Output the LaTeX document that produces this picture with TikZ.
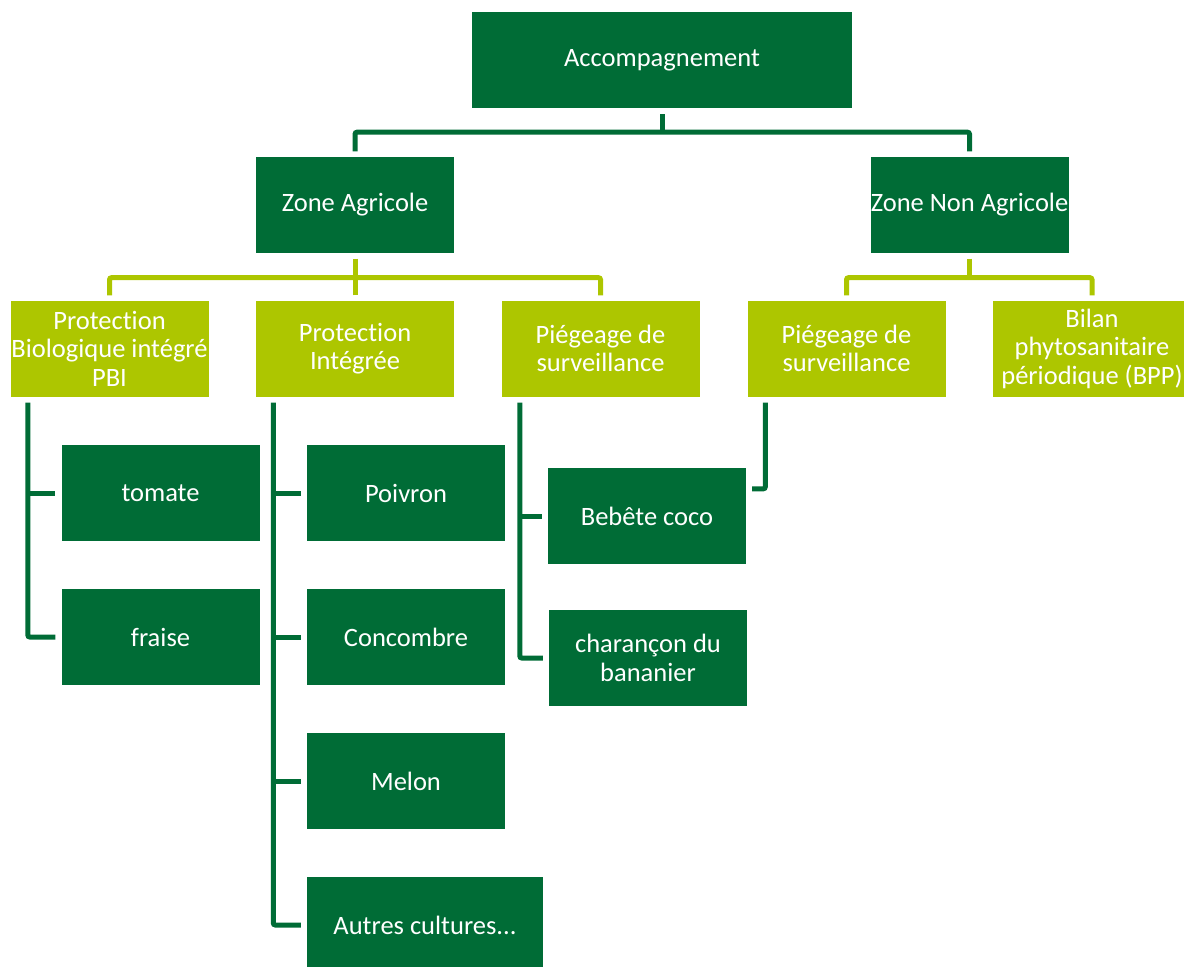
\documentclass[tikz,border=0pt]{standalone}
\usepackage{fontspec}
\setmainfont{Carlito}[Ligatures=NoCommon]
\usetikzlibrary{calc}
\definecolor{dk}{RGB}{0,108,54}
\definecolor{lt}{RGB}{173,198,0}
\tikzset{
  dbox/.style={fill=dk, text=white, minimum width=198, minimum height=96, inner sep=0pt, align=center, font=\fontsize{26.5}{28.5}\selectfont},
  lbox/.style={dbox, fill=lt},
  dline/.style={draw=dk, line width=5pt, rounded corners=2pt},
  lline/.style={draw=lt, line width=5pt, rounded corners=2pt},
}
\begin{document}
\begin{tikzpicture}[x=1pt,y=-1pt]
\useasboundingbox (0,0) rectangle (1184,967);
% level 0
\node[dbox, minimum width=380] (acc) at (662,60) {Accompagnement};
% level 1
\node[dbox] (za) at (355,204.5) {Zone Agricole};
\node[dbox] (zna) at (969.5,204.5) {Zone Non Agricole};
% level 2
\node[lbox] (pbi) at (109.5,348.5) {Protection\\Biologique intégré\\PBI};
\node[lbox] (pi) at (355,348.5) {Protection\\Intégrée};
\node[lbox] (pg1) at (600.5,348.5) {Piégeage de\\surveillance};
\node[lbox] (pg2) at (846.5,348.5) {Piégeage de\\surveillance};
\node[lbox] (bpp) at (1092,348.5) {Bilan\\phytosanitaire\\périodique (BPP)};
% level 3
\node[dbox] (tom) at (160.5,493) {tomate};
\node[dbox] (fra) at (160.5,637) {fraise};
\node[dbox] (poi) at (406,493) {Poivron};
\node[dbox] (con) at (406,637) {Concombre};
\node[dbox] (mel) at (406,781) {Melon};
\node[dbox, minimum width=236] (aut) at (425,925) {Autres cultures{.}{.}{.}};
\node[dbox] (beb) at (647,516) {Bebête coco};
\node[dbox] (cha) at (648,658) {charançon du\\bananier};
% connectors level 0 -> 1
\coordinate (accbar) at ($(acc.south)+(0,24)$);
\draw[dline] ($(acc.south)+(0,6)$) -- (accbar);
\draw[dline] ($(za.north)+(0,-5)$) |- (accbar) -| ($(zna.north)+(0,-5)$);
% connectors level 1 -> 2
\coordinate (zabar) at ($(za.south)+(0,25)$);
\draw[lline] ($(za.south)+(0,6)$) -- (zabar);
\draw[lline] ($(pbi.north)+(0,-5)$) |- (zabar) -| ($(pg1.north)+(0,-5)$);
\draw[lline] ($(pi.north)+(0,-5)$) -- (zabar);
\coordinate (znabar) at ($(zna.south)+(0,25)$);
\draw[lline] ($(zna.south)+(0,6)$) -- (znabar);
\draw[lline] ($(pg2.north)+(0,-5)$) |- (znabar) -| ($(bpp.north)+(0,-5)$);
% brackets level 2 -> 3
\coordinate (pbiB) at ($(pbi.south west)+(17.5,6)$);
\draw[dline] (pbiB) |- ($(fra.west)+(-6,0)$);
\draw[dline] (pbiB |- tom.west) -- ($(tom.west)+(-6,0)$);
\coordinate (piB) at ($(pi.south west)+(17.5,6)$);
\draw[dline] (piB) |- ($(aut.west)+(-6,0)$);
\draw[dline] (piB |- poi.west) -- ($(poi.west)+(-6,0)$);
\draw[dline] (piB |- con.west) -- ($(con.west)+(-6,0)$);
\draw[dline] (piB |- mel.west) -- ($(mel.west)+(-6,0)$);
\coordinate (pg1B) at ($(pg1.south west)+(18.5,6)$);
\draw[dline] (pg1B) |- ($(cha.west)+(-6,0)$);
\draw[dline] (pg1B |- beb.west) -- ($(beb.west)+(-6,0)$);
\coordinate (pg2B) at ($(pg2.south west)+(18,6)$);
\draw[dline] (pg2B) |- ($(beb.north east)+(6,21)$);
\end{tikzpicture}
\end{document}
